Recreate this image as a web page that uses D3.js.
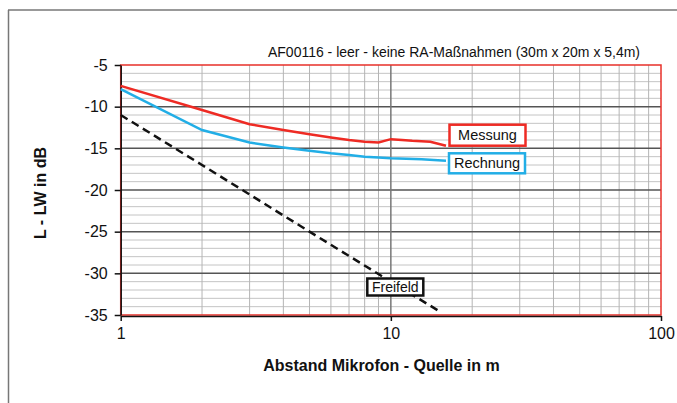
<!DOCTYPE html>
<html>
<head>
<meta charset="utf-8">
<script src="https://cdn.jsdelivr.net/npm/d3@7"></script>
<style>
  body { margin: 0; background: #fff; }
  text { font-family: "Liberation Sans", Arial, sans-serif; }
</style>
</head>
<body>
<div id="chart"></div>
<script>
// distances in m and level L - LW in dB
const messung = [
  [1, -7.5], [2, -10.4], [3, -12.1], [4, -12.8], [5, -13.3], [6, -13.7],
  [7, -14.0], [8, -14.2], [9, -14.3], [10, -13.9], [11, -14.0], [12, -14.1],
  [14, -14.2], [16, -14.7]
];
const rechnung = [
  [1, -7.9], [2, -12.8], [3, -14.3], [4, -14.9], [5, -15.3], [6, -15.6],
  [7, -15.8], [8, -16.0], [9, -16.1], [10, -16.2], [13, -16.3], [16, -16.5]
];
const freifeld = [
  [1, -11], [2, -17], [5, -25], [10, -31], [15.2, -34.6]
];
const yTicks = [-5, -10, -15, -20, -25, -30, -35];
const xTicks = [1, 10, 100];
const title = "AF00116 - leer - keine RA-Maßnahmen (30m x 20m x 5,4m)";

const width = 677, height = 403;
const mLeft = 120.7, mRight = 661, mTop = 65, mBottom = 315;

const svg = d3.select("#chart").append("svg")
  .attr("width", width).attr("height", height);

// outer frame (only top and left visible)
svg.append("line").attr("x1", 8).attr("x2", width).attr("y1", 10).attr("y2", 10)
  .style("stroke", "#777").style("stroke-width", 1.5);
svg.append("line").attr("x1", 8.5).attr("x2", 8.5).attr("y1", 10).attr("y2", height)
  .style("stroke", "#777").style("stroke-width", 1.5);

const x = d3.scaleLog().domain([1, 100]).range([mLeft, mRight]);
const y = d3.scaleLinear().domain([-35, -5]).range([mBottom, mTop]);

// grid
const minorY = d3.range(-34, -5);
svg.append("g").selectAll("line").data(minorY.filter(d => d % 5 !== 0)).join("line")
  .attr("x1", mLeft).attr("x2", mRight)
  .attr("y1", d => y(d)).attr("y2", d => y(d))
  .style("stroke", "#c4c4c4").style("stroke-width", 1);

const minorX = [2, 3, 4, 5, 6, 7, 8, 9, 20, 30, 40, 50, 60, 70, 80, 90];
svg.append("g").selectAll("line").data(minorX).join("line")
  .attr("x1", d => x(d)).attr("x2", d => x(d))
  .attr("y1", mTop).attr("y2", mBottom)
  .style("stroke", "#b4b4b4").style("stroke-width", 1);

svg.append("g").selectAll("line").data(yTicks.filter(d => d > -35 && d < -5)).join("line")
  .attr("x1", mLeft).attr("x2", mRight)
  .attr("y1", d => y(d)).attr("y2", d => y(d))
  .style("stroke", "#555").style("stroke-width", 1.5);
svg.append("line").attr("x1", x(10)).attr("x2", x(10)).attr("y1", mTop).attr("y2", mBottom)
  .style("stroke", "#777").style("stroke-width", 1.5);

// plot border
svg.append("rect").attr("x", mLeft).attr("y", mTop)
  .attr("width", mRight - mLeft).attr("height", mBottom - mTop)
  .style("fill", "none").style("stroke", "#e8302a").style("stroke-width", 1.5);

// axes
const yAxis = svg.append("g").attr("transform", `translate(${mLeft},0)`)
  .call(d3.axisLeft(y).tickValues(yTicks).tickFormat(d => String(d))
    .tickSize(6).tickSizeOuter(0).tickPadding(7));
const xAxis = svg.append("g").attr("transform", `translate(0,${mBottom + 1})`)
  .call(d3.axisBottom(x).tickValues(xTicks).tickFormat(d => String(d))
    .tickSize(5).tickSizeOuter(0).tickPadding(7));
[yAxis, xAxis].forEach(a => {
  a.select(".domain").style("stroke", "#111").style("stroke-width", 1.5);
  a.selectAll(".tick line").style("stroke", "#111").style("stroke-width", 1.5);
  a.selectAll("text").style("font-family", "Liberation Sans, Arial, sans-serif")
    .style("font-size", "16px").style("fill", "#111");
});

// series
const line = d3.line().x(d => x(d[0])).y(d => y(d[1]));
svg.append("path").datum(freifeld).attr("d", line)
  .style("fill", "none").style("stroke", "#111").style("stroke-width", 2.5)
  .style("stroke-dasharray", "8,5");
svg.append("path").datum(rechnung).attr("d", line)
  .style("fill", "none").style("stroke", "#22aee6").style("stroke-width", 2.5);
svg.append("path").datum(messung).attr("d", line)
  .style("fill", "none").style("stroke", "#ee2b24").style("stroke-width", 2.5);

// labels in boxes
function boxLabel(txt, cx, cy, w, h, color, lw, fs) {
  svg.append("rect").attr("x", cx - w / 2).attr("y", cy - h / 2)
    .attr("width", w).attr("height", h)
    .style("fill", "#fff").style("stroke", color).style("stroke-width", lw);
  svg.append("text").attr("x", cx).attr("y", cy + 5)
    .attr("text-anchor", "middle").style("font-size", fs + "px").style("fill", "#111")
    .text(txt);
}
boxLabel("Messung", 487.5, 135.2, 76, 21, "#ee2b24", 2.5, 14.5);
boxLabel("Rechnung", 487, 163.3, 76, 20, "#22aee6", 2.5, 14.5);
boxLabel("Freifeld", 395.3, 287, 56, 17, "#111", 2.5, 14);

// titles
svg.append("text").attr("x", 268).attr("y", 57)
  .attr("textLength", 372).attr("lengthAdjust", "spacingAndGlyphs")
  .style("font-size", "14px").style("fill", "#111").text(title);
svg.append("text").attr("x", 381.5).attr("y", 371).attr("text-anchor", "middle")
  .style("font-size", "16px").style("font-weight", "bold").style("fill", "#111")
  .text("Abstand Mikrofon - Quelle in m");
svg.append("text").attr("transform", "translate(46,193) rotate(-90)")
  .attr("text-anchor", "middle")
  .style("font-size", "16px").style("font-weight", "bold").style("fill", "#111")
  .text("L - LW in dB");
</script>
</body>
</html>
